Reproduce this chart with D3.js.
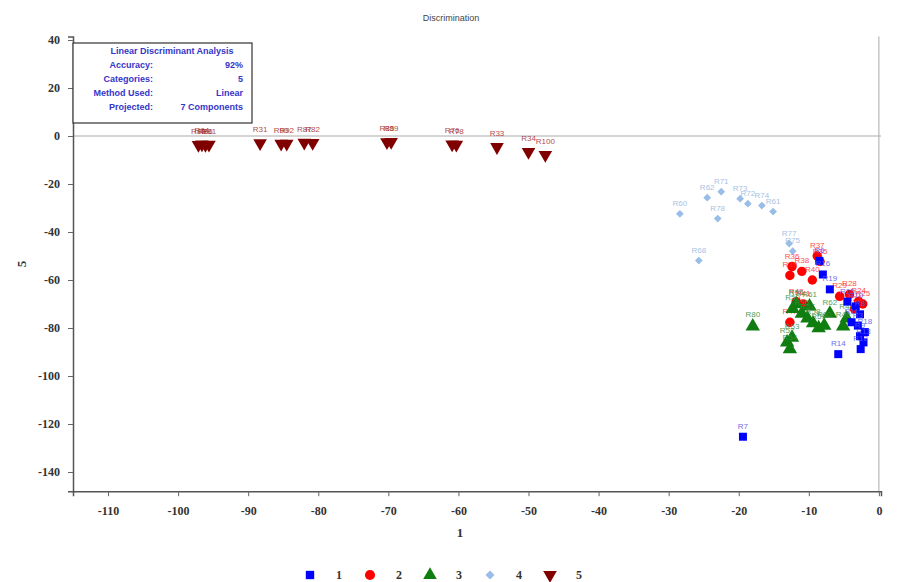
<!DOCTYPE html>
<html>
<head>
<meta charset="utf-8">
<script src="https://cdn.jsdelivr.net/npm/d3@7"></script>
<style>
body { margin: 0; background: #fff; }
.tick text { font-family: "Liberation Serif", serif; font-weight: bold; font-size: 12px; fill: #333; }
</style>
</head>
<body>
<svg id="chart" width="902" height="582"></svg>
<script>
// series 1 - blue squares
var s1Labels = ["R7","R14","R16","R19","R8","R3","R9","R12","R18","R11","R13","R10","R15","R6"];
var s1X = [-19.4, -5.8, -8, -7, -2.7, -3, -2.7, -2.6, -2, -3.9, -2.2, -3.3, -4.5, -8.5];
var s1Y = [-125.3, -90.9, -57.7, -63.9, -74.3, -79, -83.4, -88.8, -81.7, -77.6, -86, -71, -69, -52];
// series 2 - red circles
var s2Labels = ["R36","R39","R38","R35","R29","R24","R47","R37","R23","R25","R41","R40","R28","R42"];
var s2X = [-12.4, -12.7, -11, -8.4, -5.6, -2.9, -12.7, -8.8, -3.5, -2.3, -10.8, -9.5, -4.2, -11.8];
var s2Y = [-54.4, -58.1, -56.4, -52.3, -66.8, -68.9, -77.6, -50, -72, -70, -70, -60, -66, -69];
// series 3 - green triangles
var s3Labels = ["R80","R52","R54","R53","R56","R57","R58","R59","R60","R55","R61","R46","R48","R50","R62"];
var s3X = [-18, -13.1, -12.7, -12.4, -11, -10.2, -9.4, -8.6, -7.8, -11.8, -9.9, -5.1, -4.6, -12.3, -7];
var s3Y = [-79.3, -86, -88.8, -84, -74, -76, -78, -80, -79, -70, -71, -79.3, -76, -72, -74];
// series 4 - light blue diamonds
var s4Labels = ["R60","R62","R78","R71","R73","R72","R74","R61","R77","R68","R75"];
var s4X = [-28.4, -24.5, -23, -22.5, -19.8, -18.7, -16.7, -15.1, -12.8, -25.7, -12.3];
var s4Y = [-32.4, -25.7, -34.4, -23.2, -26.1, -28.2, -29, -31.5, -44.8, -51.9, -48];
// series 5 - dark red inverted triangles
var s5Labels = ["R83","R84","R86","R81","R31","R90","R92","R87","R82","R85","R89","R76","R78","R33","R34","R100"];
var s5X = [-97.1, -96.6, -96.1, -95.6, -88.3, -85.3, -84.5, -82, -80.8, -70.2, -69.6, -60.9, -60.3, -54.5, -50, -47.6];
var s5Y = [-3.7, -3.5, -3.7, -3.6, -3.0, -3.2, -3.2, -2.8, -2.9, -2.6, -2.5, -3.5, -3.6, -4.6, -6.6, -7.9];

var xTicks = [-110, -100, -90, -80, -70, -60, -50, -40, -30, -20, -10, 0];
var yTicks = [40, 20, 0, -20, -40, -60, -80, -100, -120, -140];
var legendNames = ["1", "2", "3", "4", "5"];

var infoRows = [["Accuracy:", "92%"], ["Categories:", "5"], ["Method Used:", "Linear"], ["Projected:", "7 Components"]];

var svg = d3.select("#chart");

var x = d3.scaleLinear().domain([-115, 0.3]).range([73, 881]);
var y = d3.scaleLinear().domain([-148, 41.5]).range([491.2, 36.4]);

// plain hyphen for negatives, like the original
function fmt(d) { return String(d); }

// title
svg.append("text")
	.attr("x", 451).attr("y", 21)
	.attr("text-anchor", "middle")
	.style("font-family", "Arial, sans-serif")
	.style("font-size", "9px")
	.attr("fill", "#444")
	.text("Discrimination");

// zero lines
svg.append("line")
	.attr("x1", x(-115)).attr("x2", x(0.3))
	.attr("y1", y(0)).attr("y2", y(0))
	.attr("stroke", "#aaa").attr("stroke-width", 1);
svg.append("line")
	.attr("x1", x(0)).attr("x2", x(0))
	.attr("y1", y(41.5)).attr("y2", y(-148))
	.attr("stroke", "#aaa").attr("stroke-width", 1);

// minor ticks
var minorX = d3.range(-115, 1, 5);
var minorY = d3.range(-140, 41, 10);

var gx = svg.append("g")
	.attr("transform", "translate(0," + y(-148) + ")");
gx.call(d3.axisBottom(x).tickValues(minorX).tickSize(3).tickFormat(""));
gx.call(d3.axisBottom(x).tickValues(xTicks).tickSize(5).tickPadding(10).tickFormat(fmt));
gx.selectAll(".domain").attr("stroke", "#555").attr("stroke-width", 1.5);
gx.selectAll(".tick line").attr("stroke", "#666");

var gy = svg.append("g")
	.attr("transform", "translate(" + x(-115) + ",0)");
gy.call(d3.axisLeft(y).tickValues(minorY).tickSize(3).tickFormat(""));
gy.call(d3.axisLeft(y).tickValues(yTicks).tickSize(5).tickPadding(8).tickFormat(fmt));
gy.selectAll(".domain").attr("stroke", "#555").attr("stroke-width", 1.5);
gy.selectAll(".tick line").attr("stroke", "#666");

// axis titles
svg.append("text")
	.attr("x", 460).attr("y", 537)
	.attr("text-anchor", "middle")
	.style("font-family", "Liberation Serif, serif")
	.style("font-weight", "bold").style("font-size", "13px")
	.attr("fill", "#333")
	.text("1");
svg.append("text")
	.attr("transform", "translate(26,264) rotate(-90)")
	.attr("text-anchor", "middle")
	.style("font-family", "Liberation Serif, serif")
	.style("font-weight", "bold").style("font-size", "13px")
	.attr("fill", "#333")
	.text("5");

// info box
svg.append("rect")
	.attr("x", 73).attr("y", 43).attr("width", 179).attr("height", 80)
	.attr("fill", "#fff").attr("stroke", "#333").attr("stroke-width", 1.2);
svg.append("text")
	.attr("x", 172).attr("y", 54)
	.attr("text-anchor", "middle")
	.style("font-family", "Arial, sans-serif").style("font-weight", "bold").style("font-size", "9px")
	.attr("fill", "#3535c8")
	.text("Linear Discriminant Analysis");
infoRows.forEach(function(r, i) {
	svg.append("text")
		.attr("x", 153).attr("y", 68 + i * 14)
		.attr("text-anchor", "end")
		.style("font-family", "Arial, sans-serif").style("font-weight", "bold").style("font-size", "9px")
		.attr("fill", "#3535c8")
		.text(r[0]);
	svg.append("text")
		.attr("x", 243).attr("y", 68 + i * 14)
		.attr("text-anchor", "end")
		.style("font-family", "Arial, sans-serif").style("font-weight", "bold").style("font-size", "9px")
		.attr("fill", "#3535c8")
		.text(r[1]);
});

var series = [
	{ labels: s4Labels, xs: s4X, ys: s4Y, color: "#99bde8", label: "#9ab8e0", sym: d3.symbolSquare, size: 30, rot: 45, off: 8 },
	{ labels: s5Labels, xs: s5X, ys: s5Y, color: "#800000", label: "#a33030", sym: d3.symbolTriangle, size: 80, rot: 180, off: 11 },
	{ labels: s2Labels, xs: s2X, ys: s2Y, color: "#ff0000", label: "#ff3030", sym: d3.symbolCircle, size: 70, rot: 0, off: 8 },
	{ labels: s3Labels, xs: s3X, ys: s3Y, color: "#0f7d0f", label: "#3a8f3a", sym: d3.symbolTriangle, size: 90, rot: 0, off: 9 },
	{ labels: s1Labels, xs: s1X, ys: s1Y, color: "#0000ff", label: "#5555ee", sym: d3.symbolSquare, size: 64, rot: 0, off: 8 }
];

series.forEach(function(s) {
	var data = s.xs.map(function(v, i) { return { x: v, y: s.ys[i], name: s.labels[i] }; });
	var g = svg.append("g");
	g.selectAll("path")
		.data(data)
		.enter().append("path")
		.attr("d", d3.symbol().type(s.sym).size(s.size))
		.attr("transform", function(d) { return "translate(" + x(d.x) + "," + y(d.y) + ") rotate(" + s.rot + ")"; })
		.attr("fill", s.color);
	g.selectAll("text")
		.data(data)
		.enter().append("text")
		.attr("x", function(d) { return x(d.x); })
		.attr("y", function(d) { return y(d.y) - s.off; })
		.attr("text-anchor", "middle")
		.style("font-family", "Arial, sans-serif")
		.style("font-size", "8px")
		.attr("fill", s.label)
		.attr("opacity", 0.85)
		.text(function(d) { return d.name; });
});

// legend
var legendSyms = [
	{ sym: d3.symbolSquare, color: "#0000ff", size: 70, rot: 0 },
	{ sym: d3.symbolCircle, color: "#ff0000", size: 80, rot: 0 },
	{ sym: d3.symbolTriangle, color: "#0f7d0f", size: 80, rot: 0 },
	{ sym: d3.symbolSquare, color: "#99bde8", size: 40, rot: 45 },
	{ sym: d3.symbolTriangle, color: "#800000", size: 80, rot: 180 }
];
var legend = svg.append("g");
legendSyms.forEach(function(l, i) {
	var lx = 310 + i * 60;
	legend.append("path")
		.attr("d", d3.symbol().type(l.sym).size(l.size))
		.attr("transform", "translate(" + lx + ",575) rotate(" + l.rot + ")")
		.attr("fill", l.color);
	legend.append("text")
		.attr("x", lx + 29).attr("y", 579)
		.attr("text-anchor", "middle")
		.style("font-family", "Liberation Serif, serif")
		.style("font-weight", "bold").style("font-size", "12px")
		.attr("fill", "#333")
		.text(legendNames[i]);
});
</script>
</body>
</html>
